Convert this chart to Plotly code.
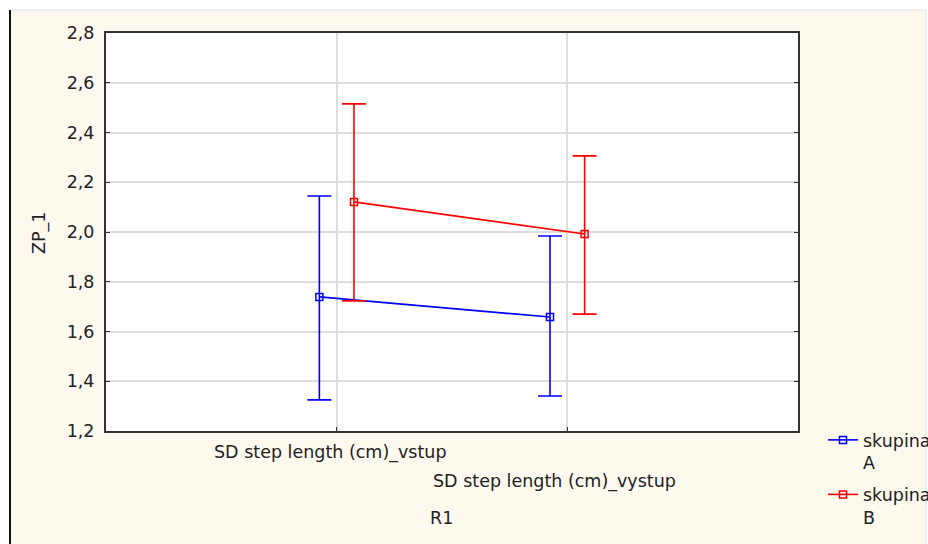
import plotly.graph_objects as go

categories = ["SD step length (cm)_vstup", "SD step length (cm)_vystup"]
groups = ["skupina<br>A", "skupina<br>B"]
mean_A = [1.739, 1.658]
upper_A = [2.145, 1.984]
lower_A = [1.325, 1.341]
mean_B = [2.121, 1.992]
upper_B = [2.515, 2.306]
lower_B = [1.723, 1.670]
y_ticks = [1.2, 1.4, 1.6, 1.8, 2.0, 2.2, 2.4, 2.6, 2.8]

FONT = "DejaVu Sans"
FS = 17.5
TXT = "#222222"
L, R, T, B = 106, 130, 33, 113
W, H = 928, 544
PW, PH = W - L - R, H - T - B


def px2x(px):
    return (px - L) / PW


def py2y(py):
    return (H - B - py) / PH


offset = 0.075
idx = list(range(len(categories)))

fig = go.Figure()
for name, means, ups, lows, color, off in [
    (groups[0], mean_A, upper_A, lower_A, "#0000FF", -offset),
    (groups[1], mean_B, upper_B, lower_B, "#FF0000", offset),
]:
    fig.add_trace(go.Scatter(
        x=[i + off for i in idx], y=means, name=name, legendgroup=name,
        mode="lines+markers",
        line=dict(color=color, width=1.6),
        marker=dict(symbol="square-open", size=7, color=color, line=dict(width=1.5, color=color)),
        error_y=dict(type="data", symmetric=False,
                     array=[u - m for u, m in zip(ups, means)],
                     arrayminus=[m - l for m, l in zip(means, lows)],
                     color=color, thickness=1.6, width=12),
    ))

shapes = [
    dict(type="rect", xref="paper", yref="paper", layer="below",
         x0=px2x(10), x1=px2x(926), y0=py2y(560), y1=py2y(10),
         fillcolor="#FEF9EE", line=dict(color="#D8E4F2", width=1)),
    dict(type="line", xref="paper", yref="paper", layer="below",
         x0=px2x(10), x1=px2x(10), y0=py2y(560), y1=py2y(10),
         line=dict(color="#111111", width=2)),
    dict(type="rect", xref="paper", yref="paper", layer="below",
         x0=0, x1=1, y0=0, y1=1, fillcolor="#FFFFFF", line=dict(width=0)),
]

annotations = [
    dict(text=categories[0], x=0, xref="x", y=py2y(453), yref="paper",
         xshift=-6, showarrow=False, xanchor="center", yanchor="middle",
         font=dict(family=FONT, size=FS, color=TXT)),
    dict(text=categories[1], x=1, xref="x", y=py2y(481), yref="paper",
         xshift=-13, showarrow=False, xanchor="center", yanchor="middle",
         font=dict(family=FONT, size=FS, color=TXT)),
    dict(text="R1", x=px2x(441), xref="paper", y=py2y(518), yref="paper",
         showarrow=False, xanchor="center", yanchor="middle",
         font=dict(family=FONT, size=FS, color=TXT)),
    dict(text="ZP_1", x=px2x(40), xref="paper", y=py2y(233), yref="paper",
         textangle=-90, showarrow=False, xanchor="center", yanchor="middle",
         font=dict(family=FONT, size=FS, color=TXT)),
]

fig.update_layout(
    width=W, height=H, autosize=False,
    margin=dict(l=L, r=R, t=T, b=B, pad=0, autoexpand=False),
    paper_bgcolor="#FFFFFF", plot_bgcolor="#FFFFFF",
    separators=",.",
    font=dict(family=FONT, size=FS, color=TXT),
    shapes=shapes, annotations=annotations,
    showlegend=True,
    legend=dict(x=px2x(823), y=py2y(422), xanchor="left", yanchor="top",
                bgcolor="rgba(0,0,0,0)", valign="top", tracegroupgap=6,
                font=dict(family=FONT, size=FS, color=TXT), itemwidth=30),
    xaxis=dict(range=[-1, 2], tickvals=idx, showticklabels=False,
               showgrid=True, gridcolor="#DDDDDD", gridwidth=1.5,
               zeroline=False, showline=True, linecolor="#333333", linewidth=2,
               mirror=True, ticks="inside", ticklen=4, tickcolor="#333333"),
    yaxis=dict(range=[1.2, 2.8], tickvals=y_ticks, tickformat=".1f",
               showgrid=True, gridcolor="#DDDDDD", gridwidth=1.5,
               zeroline=False, showline=True, linecolor="#333333", linewidth=2,
               mirror="ticks", ticks="inside", ticklen=4, tickcolor="#333333",
               ticklabelstandoff=6,
               tickfont=dict(family=FONT, size=FS, color=TXT)),
)

fig.write_html("out.html")
